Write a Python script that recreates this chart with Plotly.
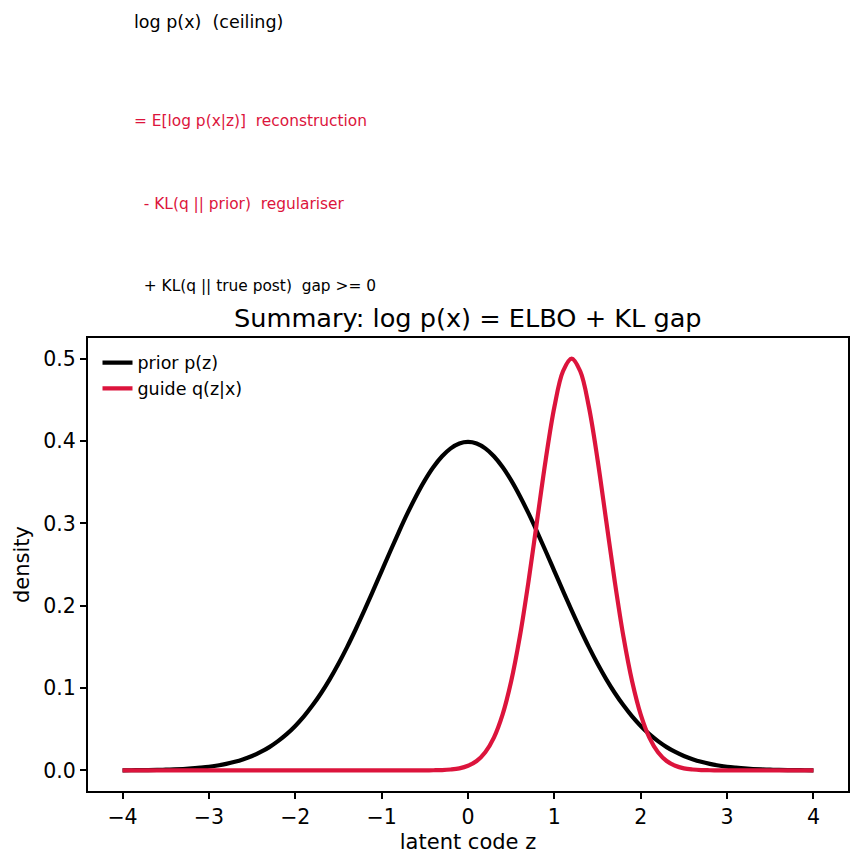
import plotly.graph_objects as go

# latent code grid, step 0.1 from -4 to 4
z = [round(-4 + 0.1 * i, 1) for i in range(81)]

prior_pz = [
    0.0001, 0.0002, 0.0003, 0.0004, 0.0006, 0.0009, 0.0012, 0.0017, 0.0024, 0.0033,
    0.0044, 0.0060, 0.0079, 0.0104, 0.0136, 0.0175, 0.0224, 0.0283, 0.0355, 0.0440,
    0.0540, 0.0656, 0.0790, 0.0940, 0.1109, 0.1295, 0.1497, 0.1714, 0.1942, 0.2179,
    0.2420, 0.2661, 0.2897, 0.3123, 0.3332, 0.3521, 0.3683, 0.3814, 0.3910, 0.3970,
    0.3989,
    0.3970, 0.3910, 0.3814, 0.3683, 0.3521, 0.3332, 0.3123, 0.2897, 0.2661, 0.2420,
    0.2179, 0.1942, 0.1714, 0.1497, 0.1295, 0.1109, 0.0940, 0.0790, 0.0656, 0.0540,
    0.0440, 0.0355, 0.0283, 0.0224, 0.0175, 0.0136, 0.0104, 0.0079, 0.0060, 0.0044,
    0.0033, 0.0024, 0.0017, 0.0012, 0.0009, 0.0006, 0.0004, 0.0003, 0.0002, 0.0001,
]

guide_q = [
    # z = -4.0 ... -0.7
    0.0, 0.0, 0.0, 0.0, 0.0, 0.0, 0.0, 0.0, 0.0, 0.0,
    0.0, 0.0, 0.0, 0.0, 0.0, 0.0, 0.0, 0.0, 0.0, 0.0,
    0.0, 0.0, 0.0, 0.0, 0.0, 0.0, 0.0, 0.0, 0.0, 0.0,
    0.0, 0.0, 0.0, 0.0,
    # z = -0.6 ... 2.9
    0.0000, 0.0001, 0.0002, 0.0004, 0.0011, 0.0025, 0.0056, 0.0114, 0.0220, 0.0398,
    0.0677, 0.1082, 0.1623, 0.2289, 0.3033, 0.3774, 0.4412, 0.4846, 0.5000, 0.4846,
    0.4412, 0.3774, 0.3033, 0.2289, 0.1623, 0.1082, 0.0677, 0.0398, 0.0220, 0.0114,
    0.0056, 0.0025, 0.0011, 0.0004, 0.0002, 0.0001,
    # z = 3.0 ... 4.0
    0.0, 0.0, 0.0, 0.0, 0.0, 0.0, 0.0, 0.0, 0.0, 0.0, 0.0,
]
assert len(prior_pz) == len(z) == len(guide_q)

series_names = ["prior p(z)", "guide q(z|x)"]
series_colors = ["#000000", "#DC143C"]

header_lines = ["log p(x)  (ceiling)",
                "= E[log p(x|z)]  reconstruction",
                "  - KL(q || prior)  regulariser",
                "  + KL(q || true post)  gap >= 0"]
header_colors = ["#000000", "#DC143C", "#DC143C", "#000000"]

x_ticks = [-4, -3, -2, -1, 0, 1, 2, 3, 4]
x_ticktext = ["\u22124", "\u22123", "\u22122", "\u22121", "0", "1", "2", "3", "4"]
y_ticks = [0, 0.1, 0.2, 0.3, 0.4, 0.5]
y_ticktext = ["0.0", "0.1", "0.2", "0.3", "0.4", "0.5"]

FONT = "DejaVu Sans"

fig = go.Figure()
for name, vals, col in zip(series_names, [prior_pz, guide_q], series_colors):
    fig.add_trace(go.Scatter(x=z, y=vals, mode="lines", name=name,
                             line=dict(color=col, width=4.2, shape="spline", smoothing=1.0)))

# plot area in pixels: left 88, right 850, top 338, bottom 791
L, R, T, B = 88, 850, 338, 791
W, H = 862, 866
pw, ph = R - L, B - T

def px_to_paper(px, py):
    return (px - L) / pw, (B - py) / ph

header_pos = [(132, 22), (132, 121), (132, 204), (132, 286)]
header_sizes = [17.5, 15.4, 15.4, 15.4]
for txt, col, (px, py), fs in zip(header_lines, header_colors, header_pos, header_sizes):
    xp, yp = px_to_paper(px, py)
    fig.add_annotation(text=txt.replace(" ", "\u00a0"), x=xp, y=yp, xref="paper", yref="paper",
                       xanchor="left", yanchor="middle", showarrow=False,
                       font=dict(family=FONT, size=fs, color=col))

tx, ty = px_to_paper(469, 318)
fig.add_annotation(text="Summary: log p(x) = ELBO + KL gap", x=tx, y=ty, xref="paper", yref="paper",
                   xanchor="center", yanchor="middle", showarrow=False,
                   font=dict(family=FONT, size=25.6, color="#000000"))

axis_common = dict(showline=True, linecolor="black", linewidth=2, mirror=True,
                   ticks="outside", ticklen=6, tickwidth=1.6, tickcolor="black",
                   showgrid=False, zeroline=False,
                   tickfont=dict(family=FONT, size=20.5, color="black"))

fig.update_layout(
    width=W, height=H,
    margin=dict(l=L, r=W - R, t=T, b=H - B),
    paper_bgcolor="white", plot_bgcolor="white",
    font=dict(family=FONT, color="black"),
    showlegend=True,
    legend=dict(x=0.0125, y=0.985, xanchor="left", yanchor="top",
                bgcolor="rgba(255,255,255,0)", font=dict(family=FONT, size=17.5),
                tracegroupgap=0),
    xaxis=dict(range=[-4.4, 4.4], tickvals=x_ticks, ticktext=x_ticktext,
               title=dict(text="latent code z", font=dict(family=FONT, size=21), standoff=7),
               **axis_common),
    yaxis=dict(range=[-0.025, 0.525], tickvals=y_ticks, ticktext=y_ticktext,
               title=dict(text="density", font=dict(family=FONT, size=21), standoff=8),
               **axis_common),
)

fig.write_html("out.html")
